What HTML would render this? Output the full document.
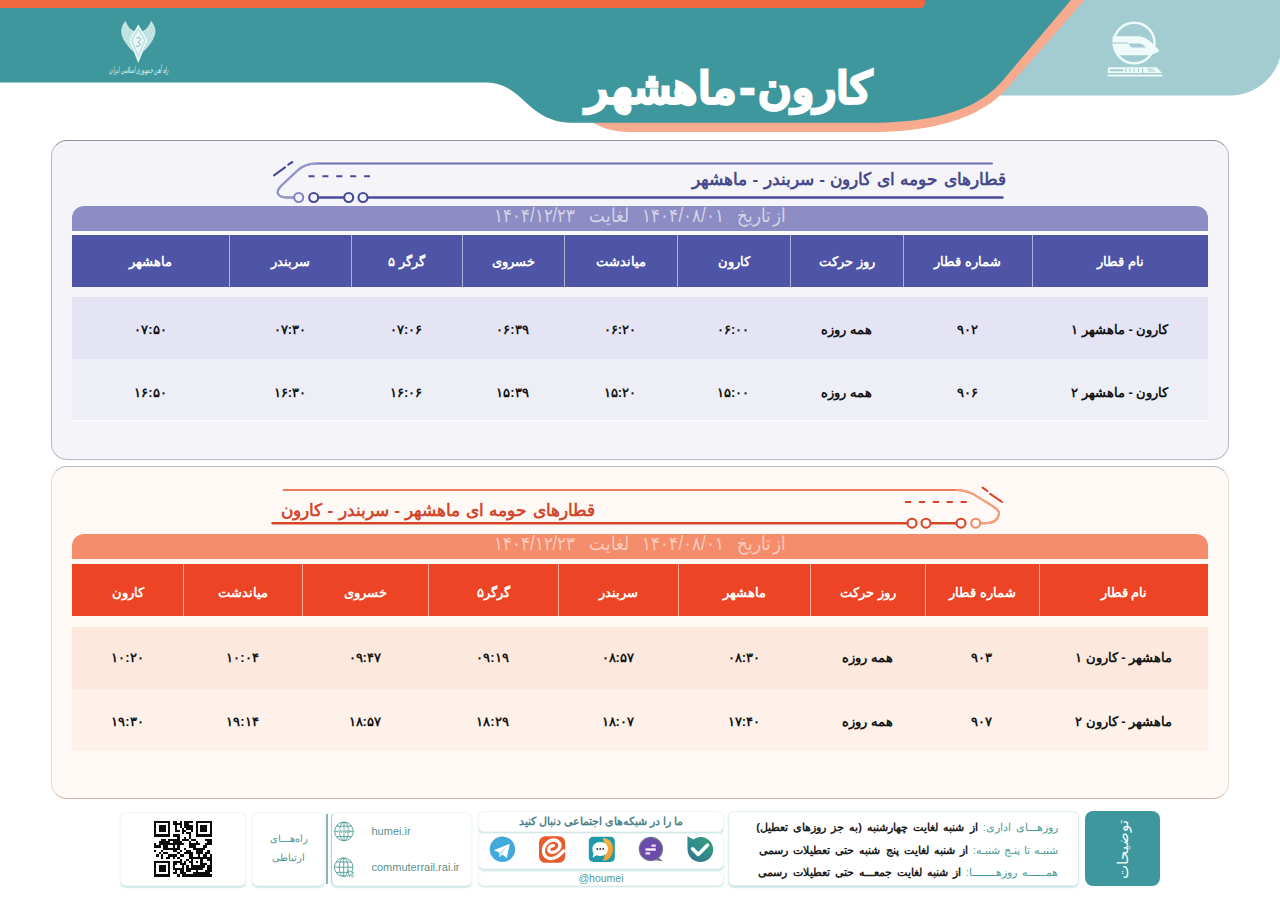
<!DOCTYPE html>
<html lang="fa">
<head>
<meta charset="utf-8">
<title>کارون - ماهشهر</title>
<style>
*{box-sizing:border-box;margin:0;padding:0}
html,body{width:1280px;height:902px;overflow:hidden;background:#fff}
body{position:relative;font-family:"Liberation Sans",sans-serif;color:#111}
.abs{position:absolute}
#hdr{position:absolute;left:0;top:0;width:1280px;height:140px}
#title{position:absolute;left:561.5px;top:60.6px;width:334px;height:56px;line-height:56px;text-align:center;direction:rtl;color:#fff;font-weight:bold;font-size:45px;white-space:nowrap;-webkit-text-stroke:2.4px #fff;word-spacing:-9px;transform:scale(1.012,.95);transform-origin:50% 52%}
#emtx{position:absolute;left:58.5px;top:63.8px;width:160px;height:12px;line-height:12px;font-size:10px;transform:scale(.47,.9);transform-origin:50% 50%;direction:rtl;text-align:center;white-space:nowrap;color:#dff3f2;font-family:"Liberation Serif",serif;font-style:italic}

/* panels */
.panel{position:absolute;left:51px;width:1177.5px;border-radius:16px}
#p1{top:140px;height:320px;background:#f5f5f9;border:1px solid #b9bac4;border-top-color:#8f909c}
#p2{top:466px;height:333px;background:#fef9f5;border:1px solid #e6d6d0;border-top-color:#bdbab9;border-bottom-color:#dcb6ad}
.ptitle{position:absolute;direction:rtl;white-space:nowrap;font-weight:bold;font-size:17px;word-spacing:.8px;height:26px;line-height:26px}
.datebar{position:absolute;left:72px;width:1136px;height:25px;border-radius:12px 12px 0 0;direction:rtl;text-align:center;white-space:nowrap;font-size:17px;word-spacing:8.8px;line-height:22px;color:rgba(255,255,255,.64)}
.datebar span{display:inline-block;transform:scaleY(1.14);transform-origin:50% 60%}
.datebar span.n{display:inline;transform:none;word-spacing:-3px}
.thead{position:absolute;left:72px;width:1136px;height:52px}
.row{position:absolute;left:72px;width:1136px;height:62px}
.c{position:absolute;top:0;height:100%;display:flex;align-items:center;justify-content:center;direction:rtl;white-space:nowrap;text-align:center}
.thead .c{padding-top:2.5px;color:#fff;font-weight:bold;font-size:13px;border-left:1px solid rgba(255,255,255,.55)}
.thead .c:first-child{border-left:none}
.row .c{padding-top:4px;font-weight:bold;font-size:13px;color:#141414}

/* footer */
.fb{position:absolute;background:#fff;border:1px solid #f0f7f6;border-radius:6px;box-shadow:0 1.2px 1.5px rgba(130,195,190,.38)}
.ft{position:absolute;white-space:nowrap}
.note{position:absolute;right:222px;width:330px;height:20px;line-height:20px;direction:rtl;text-align:right;white-space:nowrap;font-size:11px;font-weight:bold;color:#1c1c1c}
.note b{color:#4c9c9a;font-weight:normal}
.p2h .c{padding-top:6px}
.r1 .c{padding-top:2px}.r2 .c{padding-top:6px}.r3 .c{padding-top:0;padding-bottom:1.2px}.r4 .c{padding-top:2.8px}
</style>
</head>
<body>

<!-- ================= HEADER ================= -->
<svg id="hdr" viewBox="0 0 1280 140">
  <!-- light teal right panel -->
  <path d="M990 0 H1290 V43.5 H1282 A52 52 0 0 1 1230 95.5 H990 Z" fill="#a2ccd1"/>
  <!-- peach stripe -->
  <path d="M1084.5 0 L1010.5 84.5 C 996.3 101.2 965 132 870.7 132 L630 132 C 612 132 602 128 590 121 L 880 110 L1060 0 Z" fill="#f7ab8e"/>
  <!-- main teal shape -->
  <path d="M0 0 H1071 L1004 79 C 990 95.5 961.3 122.8 870.7 122.8 L572 122.8 C 527 122.8 523 82.5 486 82.5 L0 82.5 Z" fill="#3e979c"/>
  <!-- orange strip -->
  <path d="M0 0 H925 V2.5 A5.5 5.5 0 0 1 919.5 8 H0 Z" fill="#f0683f"/>
  <!-- left emblem (winged shield) -->
  <defs>
    <pattern id="fth" width="3" height="2.6" patternUnits="userSpaceOnUse" patternTransform="rotate(28)">
      <rect width="3" height="2.6" fill="#dff4f3"/>
      <rect x=".3" y=".5" width="1.3" height=".8" fill="#3e979c" opacity=".75"/>
    </pattern>
    <pattern id="fth2" width="3" height="2.6" patternUnits="userSpaceOnUse" patternTransform="rotate(-28)">
      <rect width="3" height="2.6" fill="#dff4f3"/>
      <rect x=".3" y=".5" width="1.3" height=".8" fill="#3e979c" opacity=".75"/>
    </pattern>
  </defs>
  <g stroke="none">
    <path d="M125.5 20.8 C122 25 120.4 29.5 121.4 33.8 C123 40.5 128.2 47 134 52.5 L129.6 40 L134.9 31.4 C131 30 127.5 26.5 125.5 20.8Z" fill="url(#fth)" opacity=".9"/>
    <path d="M151.1 20.8 C154.6 25 156.2 29.5 155.2 33.8 C153.6 40.5 148.4 47 142.6 52.5 L147 40 L141.7 31.4 C145.600 30 149.1 26.5 151.1 20.8Z" fill="url(#fth2)" opacity=".9"/>
    <path d="M138.3 24.6 L147.6 40 L138.3 63 L129 40 Z" fill="#e9f9f8"/>
    <path d="M138.3 27.6 L145.7 40 L138.3 58.6 L130.9 40 Z" fill="#bfe3e2"/>
    <path d="M138.3 30.4 L143.9 40 L138.3 54.6 L132.7 40 Z" fill="#eefafa" opacity=".9"/>
    <path d="M136.6 38.2 c1.6-1.2 3.8-.6 3.9 1.2 c.1 1.6-1.6 2.2-2.6 2.8 c1.6 .4 2.4 1.8 1.6 3.2 c-.8 1.4-2.6 1.6-3.6 .8" fill="none" stroke="#5fa9ab" stroke-width=".8"/>
  </g>
  <!-- right logo (circle + train) -->
  <g>
    <circle cx="1134.2" cy="43" r="20.3" fill="none" stroke="#effafa" stroke-width="2.5"/>
    <path d="M1112.6 36.2 H1137.5 C1143 36.2 1147 38.6 1151 42 L1158.4 49.2 C1159.6 50.6 1158.8 52.2 1157 52.6 L1150 55.2 H1119.5 C1116 52 1113.6 48.6 1112.6 45.6 Z" fill="#effafa"/>
    <path d="M1128.4 43.6 H1139.6 C1142 44.2 1144.2 45.6 1145.8 47.5 H1131.2 Z" fill="#a2ccd1"/>
    <rect x="1112.2" y="42.5" width="16" height="1.1" fill="#a2ccd1"/>
    <!-- wordmark bar -->
    <path d="M1108 67.2 H1156.5 L1162 73 H1107.6 Z" fill="#effafa"/>
    <rect x="1109.6" y="69.2" width="14" height="2" rx="1" fill="#a2ccd1"/>
    <path d="M1126 68.6 v3.4 M1130 68.6 v3.4 M1134.2 68.6 v3.4 M1138.4 68.6 v3.4 M1142.6 68.6 v5 M1147 69 h6.5 M1148 71 h7.4" stroke="#a2ccd1" stroke-width="1.1" fill="none"/>
    <rect x="1107.6" y="74.6" width="55" height="1.9" fill="#effafa"/>
  </g>
</svg>
<div id="title">کارون - ماهشهر</div>
<div id="emtx">راه آهن جمهوری اسلامی ایران</div>

<!-- ================= PANEL 1 ================= -->
<div class="panel" id="p1"></div>
<div class="datebar" style="top:205.5px;background:#8d8cc4"><span><span class="n">از تاریخ</span> ۱۴۰۴/۰۸/۰۱ لغایت ۱۴۰۴/۱۲/۲۳</span></div>
<div class="abs" style="left:72px;top:230.5px;width:1136px;height:4px;background:#fbfbfe"></div>
<div class="thead" style="top:234.5px;background:#4f55a6">
  <div class="c" style="left:0;width:157px">ماهشهر</div>
  <div class="c" style="left:157px;width:122px">سربندر</div>
  <div class="c" style="left:279px;width:110.5px">گرگر ۵</div>
  <div class="c" style="left:389.5px;width:102px">خسروی</div>
  <div class="c" style="left:491.5px;width:113px">میاندشت</div>
  <div class="c" style="left:604.5px;width:113.5px">کارون</div>
  <div class="c" style="left:718px;width:112.5px">روز حرکت</div>
  <div class="c" style="left:830.5px;width:129px">شماره قطار</div>
  <div class="c" style="left:959.5px;width:176.5px">نام قطار</div>
</div>
<div class="row r1" style="top:297px;background:#e4e4f4">
  <div class="c" style="left:0;width:157px">۰۷:۵۰</div>
  <div class="c" style="left:157px;width:122px">۰۷:۳۰</div>
  <div class="c" style="left:279px;width:110.5px">۰۷:۰۶</div>
  <div class="c" style="left:389.5px;width:102px">۰۶:۳۹</div>
  <div class="c" style="left:491.5px;width:113px">۰۶:۲۰</div>
  <div class="c" style="left:604.5px;width:113.5px">۰۶:۰۰</div>
  <div class="c" style="left:718px;width:112.5px">همه روزه</div>
  <div class="c" style="left:830.5px;width:129px">۹۰۲</div>
  <div class="c" style="left:959.5px;width:176.5px">کارون - ماهشهر ۱</div>
</div>
<div class="row r2" style="top:359px;background:#eeeff6;border-bottom:1px solid #fafafd">
  <div class="c" style="left:0;width:157px">۱۶:۵۰</div>
  <div class="c" style="left:157px;width:122px">۱۶:۳۰</div>
  <div class="c" style="left:279px;width:110.5px">۱۶:۰۶</div>
  <div class="c" style="left:389.5px;width:102px">۱۵:۳۹</div>
  <div class="c" style="left:491.5px;width:113px">۱۵:۲۰</div>
  <div class="c" style="left:604.5px;width:113.5px">۱۵:۰۰</div>
  <div class="c" style="left:718px;width:112.5px">همه روزه</div>
  <div class="c" style="left:830.5px;width:129px">۹۰۶</div>
  <div class="c" style="left:959.5px;width:176.5px">کارون - ماهشهر ۲</div>
</div>

<!-- ================= PANEL 2 ================= -->
<div class="panel" id="p2"></div>
<div class="datebar" style="top:533.5px;background:#f58d6c;color:rgba(255,255,255,.56)"><span><span class="n">از تاریخ</span> ۱۴۰۴/۰۸/۰۱ لغایت ۱۴۰۴/۱۲/۲۳</span></div>
<div class="thead p2h" style="top:563.5px;background:#ec4424">
  <div class="c" style="left:0;width:111px">کارون</div>
  <div class="c" style="left:111px;width:119px">میاندشت</div>
  <div class="c" style="left:230px;width:125.5px">خسروی</div>
  <div class="c" style="left:355.5px;width:130px">گرگر۵</div>
  <div class="c" style="left:485.5px;width:120.5px">سربندر</div>
  <div class="c" style="left:606px;width:132px">ماهشهر</div>
  <div class="c" style="left:738px;width:114.5px">روز حرکت</div>
  <div class="c" style="left:852.5px;width:114.5px">شماره قطار</div>
  <div class="c" style="left:967px;width:169px">نام قطار</div>
</div>
<div class="row r3" style="top:627px;background:#fce8dc">
  <div class="c" style="left:0;width:111px">۱۰:۲۰</div>
  <div class="c" style="left:111px;width:119px">۱۰:۰۴</div>
  <div class="c" style="left:230px;width:125.5px">۰۹:۴۷</div>
  <div class="c" style="left:355.5px;width:130px">۰۹:۱۹</div>
  <div class="c" style="left:485.5px;width:120.5px">۰۸:۵۷</div>
  <div class="c" style="left:606px;width:132px">۰۸:۳۰</div>
  <div class="c" style="left:738px;width:114.5px">همه روزه</div>
  <div class="c" style="left:852.5px;width:114.5px">۹۰۳</div>
  <div class="c" style="left:967px;width:169px">ماهشهر - کارون ۱</div>
</div>
<div class="row r4" style="top:689px;background:#fdf1ea">
  <div class="c" style="left:0;width:111px">۱۹:۳۰</div>
  <div class="c" style="left:111px;width:119px">۱۹:۱۴</div>
  <div class="c" style="left:230px;width:125.5px">۱۸:۵۷</div>
  <div class="c" style="left:355.5px;width:130px">۱۸:۲۹</div>
  <div class="c" style="left:485.5px;width:120.5px">۱۸:۰۷</div>
  <div class="c" style="left:606px;width:132px">۱۷:۴۰</div>
  <div class="c" style="left:738px;width:114.5px">همه روزه</div>
  <div class="c" style="left:852.5px;width:114.5px">۹۰۷</div>
  <div class="c" style="left:967px;width:169px">ماهشهر - کارون ۲</div>
</div>


<!-- ================= LINE ART (trains + title rules) ================= -->
<svg class="abs" style="left:0;top:140px;width:1280px;height:400px" viewBox="0 140 1280 400" fill="none" stroke-linecap="round">
  <defs>
    <linearGradient id="gb" x1="278" y1="0" x2="330" y2="0" gradientUnits="userSpaceOnUse">
      <stop offset="0" stop-color="#9294cb"/><stop offset="1" stop-color="#4a4e9c"/>
    </linearGradient>
    <linearGradient id="go" x1="1000" y1="0" x2="950" y2="0" gradientUnits="userSpaceOnUse">
      <stop offset="0" stop-color="#f4a283"/><stop offset="1" stop-color="#dc452b"/>
    </linearGradient>
  </defs>
  <!-- panel 1 : blue train facing left -->
  <path d="M992 163.5 H316 C 308 163.5 303 165.5 297.5 170.5 L 281.5 185.5 C 274 193 278.5 197.5 287 197.5 H 294.2" stroke="#6d70b6" stroke-width="2"/>
  <path d="M316 163.5 C 308 163.5 303 165.5 297.5 170.5 L 281.5 185.5 C 274 193 278.5 197.5 287 197.5 H 294.2" stroke="#9698cc" stroke-width="2.1"/>
  <path d="M318.2 197.5 H344.2 M367.5 197.5 H1002.5" stroke="#474b9a" stroke-width="2.4"/>
  <g stroke-width="2.1" fill="#f5f5f9">
    <circle cx="298.7" cy="197.5" r="4.5" stroke="#8486c2"/>
    <circle cx="313.7" cy="197.5" r="4.5" stroke="#474b9a"/>
    <circle cx="348.7" cy="197.5" r="4.5" stroke="#474b9a"/>
    <circle cx="363" cy="197.5" r="4.5" stroke="#474b9a"/>
  </g>
  <path d="M308.5 176.2 H370" stroke="#474b9a" stroke-width="2.1" stroke-dasharray="6 7.9" stroke-linecap="butt"/>
  <path d="M274 175.3 L285 167.3 M288.3 164.6 L292.3 162" stroke="#474b9a" stroke-width="2.1"/>

  <!-- panel 2 : orange train facing right -->
  <path d="M283.6 490 H957 C 966 490 972 493 978 497 C 990 505 1000 509 999 514 C 998 520 994 523.2 986 523.2 H 980.2" stroke="#ee7d59" stroke-width="2"/>
  <path d="M957 490 C 966 490 972 493 978 497 C 990 505 1000 509 999 514 C 998 520 994 523.2 986 523.2 H 980.2" stroke="#f3a080" stroke-width="2.1"/>
  <path d="M272.5 523.2 H907.5 M930.5 523.2 H956.5" stroke="#d9432a" stroke-width="2.4"/>
  <g stroke-width="2.1" fill="#fef9f5">
    <circle cx="912" cy="523.2" r="4.5" stroke="#d9432a"/>
    <circle cx="926" cy="523.2" r="4.5" stroke="#d9432a"/>
    <circle cx="961" cy="523.2" r="4.5" stroke="#d9432a"/>
    <circle cx="975.7" cy="523.2" r="4.5" stroke="#ee8a68"/>
  </g>
  <path d="M905 502 H967.5" stroke="#d9432a" stroke-width="2.1" stroke-dasharray="6.2 7.7" stroke-linecap="butt"/>
  <path d="M982.6 487.6 L987.4 491 M990.2 493.8 L1002 502" stroke="#d9432a" stroke-width="2.1"/>
</svg>
<div class="ptitle" style="right:274px;top:167px;color:#454a8a">قطارهای حومه ای کارون - سربندر - ماهشهر</div>
<div class="ptitle" style="left:281px;top:497.5px;color:#d2482e">قطارهای حومه ای ماهشهر - سربندر - کارون</div>

<!-- ================= FOOTER ================= -->

<div class="fb" style="left:119.5px;top:811.5px;width:126px;height:74.5px"></div>
<svg class="abs" style="left:153.5px;top:821px;width:58px;height:55.5px" viewBox="0 0 25 25" preserveAspectRatio="none" shape-rendering="crispEdges"><path d="M0 0h7v1h-7zM8 0h2v1h-2zM11 0h1v1h-1zM13 0h4v1h-4zM18 0h7v1h-7zM0 1h1v1h-1zM6 1h1v1h-1zM8 1h4v1h-4zM13 1h2v1h-2zM18 1h1v1h-1zM24 1h1v1h-1zM0 2h1v1h-1zM2 2h3v1h-3zM6 2h1v1h-1zM9 2h1v1h-1zM11 2h1v1h-1zM13 2h4v1h-4zM18 2h1v1h-1zM20 2h3v1h-3zM24 2h1v1h-1zM0 3h1v1h-1zM2 3h3v1h-3zM6 3h1v1h-1zM9 3h1v1h-1zM12 3h1v1h-1zM14 3h3v1h-3zM18 3h1v1h-1zM20 3h3v1h-3zM24 3h1v1h-1zM0 4h1v1h-1zM2 4h3v1h-3zM6 4h1v1h-1zM9 4h2v1h-2zM12 4h2v1h-2zM16 4h1v1h-1zM18 4h1v1h-1zM20 4h3v1h-3zM24 4h1v1h-1zM0 5h1v1h-1zM6 5h1v1h-1zM12 5h1v1h-1zM14 5h2v1h-2zM18 5h1v1h-1zM24 5h1v1h-1zM0 6h7v1h-7zM8 6h3v1h-3zM15 6h1v1h-1zM18 6h7v1h-7zM10 7h1v1h-1zM13 7h1v1h-1zM15 7h1v1h-1zM3 8h2v1h-2zM6 8h5v1h-5zM12 8h3v1h-3zM16 8h2v1h-2zM22 8h3v1h-3zM2 9h5v1h-5zM8 9h4v1h-4zM15 9h1v1h-1zM18 9h1v1h-1zM23 9h2v1h-2zM0 10h1v1h-1zM2 10h11v1h-11zM15 10h5v1h-5zM22 10h3v1h-3zM0 11h3v1h-3zM4 11h2v1h-2zM8 11h1v1h-1zM10 11h1v1h-1zM15 11h3v1h-3zM21 11h2v1h-2zM4 12h7v1h-7zM13 12h1v1h-1zM17 12h5v1h-5zM0 13h1v1h-1zM3 13h1v1h-1zM8 13h2v1h-2zM11 13h1v1h-1zM14 13h2v1h-2zM18 13h3v1h-3zM23 13h1v1h-1zM2 14h1v1h-1zM4 14h2v1h-2zM10 14h1v1h-1zM13 14h4v1h-4zM18 14h3v1h-3zM22 14h2v1h-2zM1 15h1v1h-1zM3 15h1v1h-1zM6 15h4v1h-4zM11 15h2v1h-2zM15 15h2v1h-2zM19 15h1v1h-1zM21 15h2v1h-2zM24 15h1v1h-1zM3 16h1v1h-1zM5 16h2v1h-2zM8 16h1v1h-1zM10 16h1v1h-1zM15 16h10v1h-10zM11 17h1v1h-1zM14 17h1v1h-1zM16 17h1v1h-1zM20 17h1v1h-1zM23 17h2v1h-2zM0 18h7v1h-7zM8 18h4v1h-4zM13 18h1v1h-1zM15 18h2v1h-2zM18 18h1v1h-1zM20 18h1v1h-1zM24 18h1v1h-1zM0 19h1v1h-1zM6 19h1v1h-1zM8 19h2v1h-2zM11 19h3v1h-3zM16 19h1v1h-1zM20 19h3v1h-3zM24 19h1v1h-1zM0 20h1v1h-1zM2 20h3v1h-3zM6 20h1v1h-1zM8 20h1v1h-1zM12 20h1v1h-1zM14 20h1v1h-1zM16 20h6v1h-6zM23 20h2v1h-2zM0 21h1v1h-1zM2 21h3v1h-3zM6 21h1v1h-1zM8 21h5v1h-5zM14 21h7v1h-7zM23 21h2v1h-2zM0 22h1v1h-1zM2 22h3v1h-3zM6 22h1v1h-1zM9 22h1v1h-1zM11 22h2v1h-2zM14 22h2v1h-2zM18 22h1v1h-1zM22 22h3v1h-3zM0 23h1v1h-1zM6 23h1v1h-1zM8 23h2v1h-2zM11 23h3v1h-3zM17 23h7v1h-7zM0 24h7v1h-7zM10 24h1v1h-1zM12 24h13v1h-13z" fill="#0b0b0b"/></svg>
<div class="fb" style="left:252px;top:811.5px;width:73px;height:74.5px"></div>
<div class="ft" style="left:252px;top:830px;width:73px;text-align:center;direction:rtl;font-size:10px;line-height:18.5px;color:#4f9693">راه‌هـــای<br>ارتباطی</div>
<div class="abs" style="left:326.4px;top:814px;width:1.5px;height:70px;background:#8db4b2"></div>
<div class="fb" style="left:330.5px;top:811.5px;width:141px;height:74.5px;border-left-color:#a9d2cf"></div>
<svg class="abs" style="left:332px;top:819px;width:24px;height:62px" viewBox="332 819 24 62" fill="none" stroke="#4e9d98" stroke-width="0.9">
  <circle cx="344" cy="831.4" r="9.3"/>
  <ellipse cx="344" cy="831.4" rx="4.4" ry="9.3"/>
  <path d="M344 822.1v18.6M334.7 831.4h18.6M336.3 826.2h15.4M336.3 836.6h15.4"/>
  <rect x="338.2" y="829.4" width="11.6" height="4" fill="#fff" stroke="none"/>
  <path d="M338.8 830l.9 2.9 .9-2.9 .9 2.9 .9-2.9M343 830l.9 2.9 .9-2.9 .9 2.9 .9-2.9M347 830l.7 2.9 .7-2.9 .7 2.9 .7-2.9" stroke-width=".6"/>
  <circle cx="343.7" cy="867.2" r="9.3"/>
  <ellipse cx="343.7" cy="867.2" rx="4.4" ry="9.3"/>
  <path d="M343.7 857.9v18.6M334.4 867.2h18.6M336 862h15.4M336 872.4h15.4"/>
  <path d="M348.2 870.6l5.6 2.2-2.4 1 2.2 2.4-1 .9-2.2-2.4-1 2.3z" fill="#fff" stroke-width=".8"/>
</svg>
<div class="ft" style="left:371.5px;top:824.5px;font-size:11px;line-height:13px;color:#5d8f8d">humei.ir</div>
<div class="ft" style="left:371.5px;top:860.7px;font-size:11px;line-height:13px;color:#5d8f8d">commuterrail.rai.ir</div>

<div class="fb" style="left:478px;top:811px;width:246px;height:20.5px"></div>
<div class="fb" style="left:478px;top:833px;width:246px;height:36px"></div>
<div class="fb" style="left:478px;top:871px;width:246px;height:15px"></div>
<div class="ft" style="left:478px;top:812px;width:246px;height:19px;line-height:19px;text-align:center;direction:rtl;font-size:11px;font-weight:bold;color:#4d8288">ما را در شبکه‌های اجتماعی دنبال کنید</div>
<div class="ft" style="left:478px;top:871px;width:246px;height:14px;line-height:14px;text-align:center;font-size:10.5px;color:#4f9a98">@houmei</div>
<svg class="abs" style="left:486px;top:834px;width:232px;height:32px" viewBox="486 834 232 32">
  <defs>
    <linearGradient id="gbale" x1=".1" y1="1" x2=".9" y2="0"><stop offset="0" stop-color="#3a6f84"/><stop offset=".45" stop-color="#2f8d8c"/><stop offset="1" stop-color="#3b9a7c"/></linearGradient>
    <linearGradient id="gsor" x1="0" y1="0" x2="1" y2="1"><stop offset="0" stop-color="#f7c04a"/><stop offset="1" stop-color="#ee9431"/></linearGradient>
  </defs>
  <!-- telegram -->
  <circle cx="502.4" cy="849.3" r="12.7" fill="#41a9dc"/>
  <path d="M493.8 850.3 L509.8 843.8 L506.9 858 L502.2 854.6 L499.6 857.2 L499.3 852.6 Z" fill="#fff"/>
  <path d="M499.3 852.6 L507 846.4 L501.6 854 L499.6 857.2 Z" fill="#c4e3f3"/>
  <!-- eitaa -->
  <rect x="539" y="836.2" width="26.2" height="26.6" rx="6.5" fill="#e85b2c"/>
  <path d="M563.6 850.8 C559.6 855.4 553.6 859.4 549 858.4 C544.6 857.4 542.8 853 543.6 848.8 C544.6 843.6 549 839.9 553.8 840 C558.2 840.1 560.6 843.2 559.8 846.6 C559 850 555.4 852.4 551.8 852.4 C549.4 852.4 548.2 850.6 548.8 848.6 C549.4 846.8 551.4 845.6 553.4 845.6" fill="none" stroke="#fff" stroke-width="3.3" stroke-linecap="round"/>
  <!-- soroush -->
  <path d="M593.5 836.8 H610 Q614.8 836.8 614.8 841.6 V857 Q614.8 861.9 610 861.9 H593.5 Q588.8 861.9 588.8 857 V841.6 Q588.8 836.8 593.5 836.8Z" fill="#1f9aa9"/>
  <path d="M602.6 838 C609.6 838 613.2 843 613 849.4 C612.8 856 609 860.6 602.6 860.8 C604.6 857.8 605.6 853.6 605.4 849.2 C605.2 844.8 604.2 841 602.6 838Z" fill="url(#gsor)"/>
  <path d="M600.2 842 C604.8 842 608 845 608 849 C608 853 604.8 856 600.2 856 C598.8 856 597.4 855.7 596.2 855.2 L592.6 857.8 L593.6 853.4 C592.8 852.2 592.4 850.6 592.4 849 C592.4 845 595.6 842 600.2 842Z" fill="#fff"/>
  <circle cx="597.2" cy="849" r=".95" fill="#333"/><circle cx="600.2" cy="849" r=".95" fill="#333"/><circle cx="603.2" cy="849" r=".95" fill="#333"/>
  <!-- gap -->
  <path d="M658.4 857.4 L663 861.2 L655.5 860.2Z" fill="#6f7085"/>
  <circle cx="650.9" cy="849" r="11.5" fill="#6b4aa9" stroke="#70718c" stroke-width="1.3"/>
  <rect x="651.4" y="844.4" width="4.4" height="2.4" rx=".5" fill="#f6d9f0"/>
  <rect x="645.4" y="848.3" width="10.4" height="2.4" rx=".5" fill="#fbeaf7"/>
  <rect x="645.4" y="852.2" width="4.8" height="2.4" rx=".5" fill="#f6d9f0"/>
  <!-- bale -->
  <path d="M687.4 836.2 L693.6 839.4 C695.6 838 698 837 700.4 836.9 C707.4 836.7 713.2 842.4 713.2 849.4 C713.2 856.4 707.5 862 700.5 862 C693.5 862 687.6 856.4 687.5 849.4 Z" fill="url(#gbale)"/>
  <path d="M692.6 848.8 L698.2 854.4 L707.4 845.2" fill="none" stroke="#fff" stroke-width="3.6" stroke-linecap="round" stroke-linejoin="round"/>
</svg>

<div class="fb" style="left:728px;top:811px;width:350.5px;height:75px;border-color:#dff0ee"></div>
<div class="note" style="top:817px;word-spacing:2.1px"><b>روزهـــای اداری:</b> از شنبه لغایت چهارشنبه (به جز روزهای تعطیل)</div>
<div class="note" style="top:839.5px;word-spacing:2px"><b style="word-spacing:1px">شنبـه تا پنـج شنبـه:</b> از شنبه لغایت پنج شنبه حتی تعطیلات رسمی</div>
<div class="note" style="top:861.5px;word-spacing:2px"><b>همــــــه روزهــــــــا:</b> از شنبه لغایت جمعـــه حتی تعطیلات رسمی</div>
<div class="abs" style="left:1085.3px;top:811px;width:75px;height:75.3px;background:#3e979c;border-radius:8px"></div>
<div class="ft" style="left:1083px;top:837px;width:80px;height:24px;line-height:24px;text-align:center;direction:rtl;font-size:15px;color:#f2fbfb;transform:rotate(-90deg);transform-origin:50% 50%">توضیحات</div>

</body>
</html>
